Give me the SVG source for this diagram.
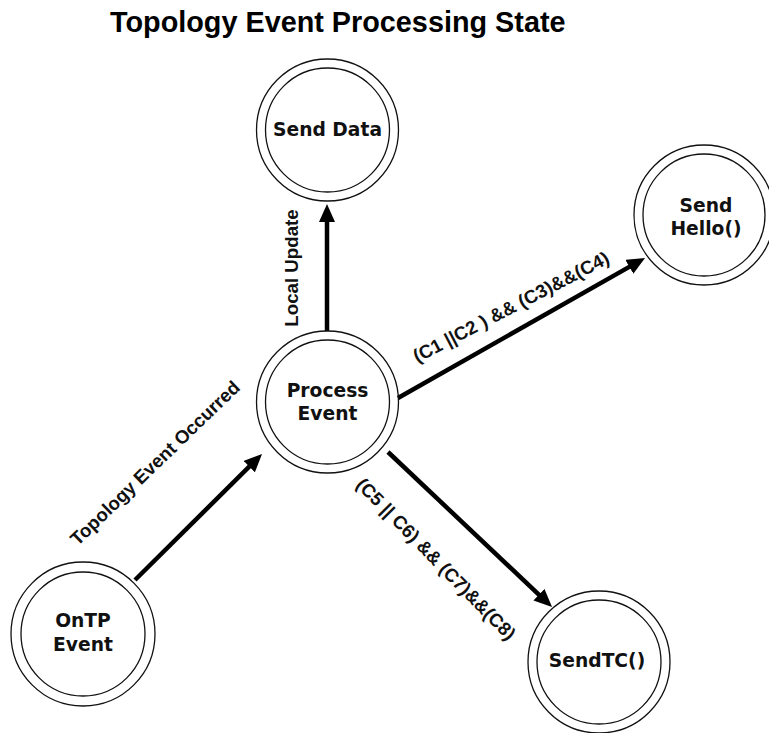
<svg xmlns="http://www.w3.org/2000/svg" width="769" height="733" viewBox="0 0 769 733">
  <style>
    .ring { fill: none; stroke: #111; stroke-width: 1.3; }
    .node-text { font-family: "DejaVu Sans", Verdana, sans-serif; font-weight: bold; font-size: 18.7px; fill: #111; text-anchor: middle; }
    .edge { stroke: #000; stroke-width: 4.5; fill: none; marker-end: url(#arrow); }
    .edge-label { font-family: "Liberation Sans", Arial, sans-serif; font-weight: bold; font-size: 18.7px; fill: #111; text-anchor: middle; }
    .title { font-family: "Liberation Sans", Arial, sans-serif; font-weight: bold; font-size: 28.8px; fill: #000; }
  </style>
  <defs>
    <marker id="arrow" markerUnits="userSpaceOnUse" markerWidth="18" markerHeight="16" refX="6" refY="8" orient="auto">
      <path d="M0,0 L18,8 L0,16 z" fill="#000"/>
    </marker>
  </defs>
  <rect width="769" height="733" fill="#fff"/>

  <text class="title" x="110" y="32">Topology Event Processing State</text>

  <g id="connectors">
    <line class="edge" x1="327" y1="331" x2="327" y2="216"/>
    <line class="edge" x1="398" y1="398" x2="634.6" y2="263.9"/>
    <line class="edge" x1="388" y1="452" x2="543.3" y2="598.8"/>
    <line class="edge" x1="135" y1="580" x2="253.5" y2="462.4"/>
    <text class="edge-label" transform="translate(291.5,268) rotate(-90)" y="6.5">Local Update</text>
    <text class="edge-label" transform="translate(511,307) rotate(-27.5)" y="6.5">(C1 ||C2 ) &amp;&amp; (C3)&amp;&amp;(C4)</text>
    <text class="edge-label" transform="translate(436,559) rotate(45.5)" y="6.5">(C5 || C6) &amp;&amp; (C7)&amp;&amp;(C8)</text>
    <text class="edge-label" transform="translate(155,463) rotate(-44)" y="6.5">Topology Event Occurred</text>
  </g>

  <g id="send-data">
    <circle class="ring" cx="327.5" cy="130" r="71"/>
    <circle class="ring" cx="327.5" cy="130" r="62"/>
    <text class="node-text" x="327.5" y="136">Send Data</text>
  </g>

  <g id="send-hello">
    <circle class="ring" cx="704" cy="215" r="70"/>
    <circle class="ring" cx="704" cy="215" r="61"/>
    <text class="node-text" x="706" y="212">Send</text>
    <text class="node-text" x="706" y="235">Hello()</text>
  </g>

  <g id="process-event">
    <circle class="ring" cx="327.5" cy="402" r="71"/>
    <circle class="ring" cx="327.5" cy="402" r="62"/>
    <text class="node-text" x="327.5" y="397">Process</text>
    <text class="node-text" x="327.5" y="420">Event</text>
  </g>

  <g id="ontp-event">
    <circle class="ring" cx="83" cy="634" r="72"/>
    <circle class="ring" cx="83" cy="634" r="62"/>
    <text class="node-text" x="83" y="627">OnTP</text>
    <text class="node-text" x="83" y="651">Event</text>
  </g>

  <g id="send-tc">
    <circle class="ring" cx="599" cy="662" r="71"/>
    <circle class="ring" cx="599" cy="662" r="62"/>
    <text class="node-text" x="597" y="667">SendTC()</text>
  </g>
</svg>
